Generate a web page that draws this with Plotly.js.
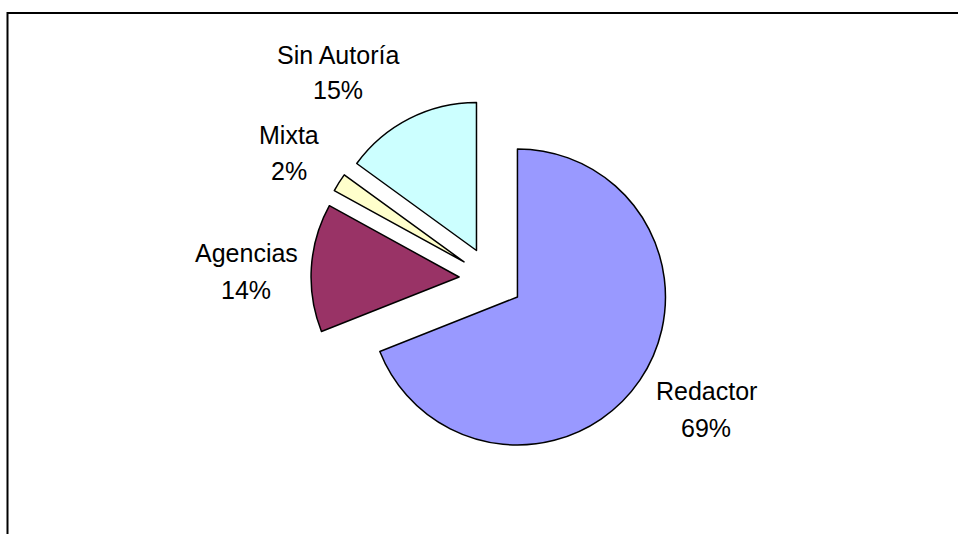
<!DOCTYPE html>
<html>
<head>
<meta charset="utf-8">
<script src="https://cdn.plot.ly/plotly-3.0.1.min.js"></script>
<style>html,body{margin:0;padding:0;background:#fff;}#chart{width:958px;height:534px;}</style>
</head>
<body>
<div id="chart"></div>
<script>
var categories = ["Redactor", "Agencias", "Mixta", "Sin Autoría"];
var shares = [69, 14, 2, 15];
var sliceColors = ["#9999FF", "#993366", "#FFFFCC", "#CCFFFF"];

var W = 958, H = 534;
// label centre positions in pixels (line 1 = name, line 2 = percent)
var labelPos = [
  {x: 706, y1: 391, y2: 428},
  {x: 246, y1: 253, y2: 290},
  {x: 289, y1: 135, y2: 171},
  {x: 338, y1: 55, y2: 90}
];
var total = shares.reduce(function(a,b){return a+b;},0);
var annotations = [];
var font = {family: "Liberation Sans, Arial, sans-serif", size: 25, color: "#000"};
categories.forEach(function(c, i){
  var p = labelPos[i];
  annotations.push({xref:"paper", yref:"paper", x: p.x/W, y: 1 - p.y1/H, text: c, showarrow:false, font: font, xanchor:"center", yanchor:"middle"});
  annotations.push({xref:"paper", yref:"paper", x: p.x/W, y: 1 - p.y2/H, text: Math.round(shares[i]/total*100) + "%", showarrow:false, font: font, xanchor:"center", yanchor:"middle"});
});

var cx = 491, cy = 279, half = 180;
var trace = {
  type: "pie",
  labels: categories,
  values: shares,
  sort: false,
  direction: "clockwise",
  rotation: 0,
  pull: [0.216, 0.216, 0.216, 0.216],
  marker: {colors: sliceColors, line: {color: "#000", width: 1.5}},
  textinfo: "none",
  hoverinfo: "label+percent",
  domain: {x: [(cx-half)/W, (cx+half)/W], y: [1-(cy+half)/H, 1-(cy-half)/H]},
  showlegend: false
};

var layout = {
  width: W, height: H,
  margin: {l:0, r:0, t:0, b:0},
  paper_bgcolor: "#fff",
  plot_bgcolor: "#fff",
  showlegend: false,
  annotations: annotations,
  shapes: [{type:"rect", xref:"paper", yref:"paper", x0: 7.5/W, x1: 1.05, y0: -0.05, y1: 1 - 13/H, line:{color:"#000", width:2}, fillcolor:"rgba(0,0,0,0)"}]
};
Plotly.newPlot("chart", [trace], layout, {displayModeBar:false, staticPlot:true});
</script>
</body>
</html>
